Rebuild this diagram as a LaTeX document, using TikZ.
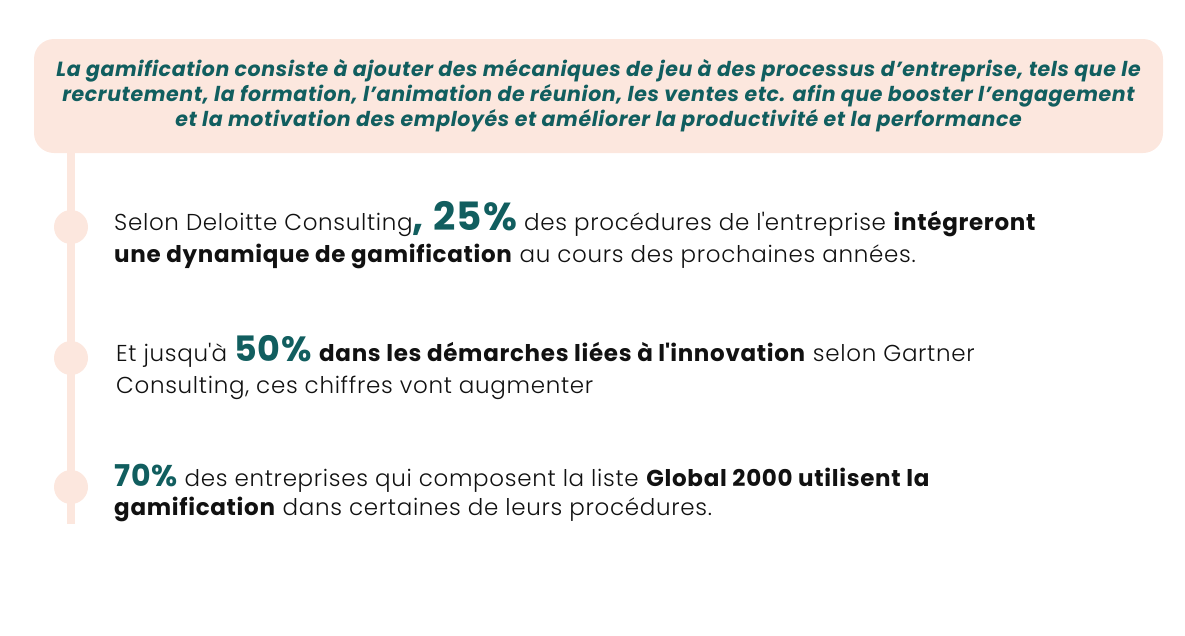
\documentclass[tikz,border=0pt]{standalone}
\usepackage{fontspec}
\setmainfont{Poppins}[UprightFont=* Light, BoldFont=* Bold, ItalicFont=* Italic, BoldItalicFont=* Bold Italic, LetterSpace=3]
\usepackage{tikz}
\usetikzlibrary{calc,positioning}

\definecolor{peach}{HTML}{FCE7DE}
\definecolor{gamteal}{HTML}{115E5F}
\definecolor{ink}{HTML}{111111}

\newcommand{\pct}[2]{{\bfseries\color{gamteal}\fontsize{#1}{32}\selectfont #2}}

\begin{document}
\begin{tikzpicture}[
  x=1pt,
  y=-1pt
]

  \path[use as bounding box] (0,0) rectangle (1185,635);

  \tikzstyle{banner}=[fill=peach,rounded corners=20pt,minimum width=1129pt,minimum height=114pt,inner sep=0pt,align=center,text=gamteal,font=\bfseries\itshape\fontsize{20.5}{25}\selectfont]
  \tikzstyle{dot}=[circle,fill=peach,minimum size=34pt,inner sep=0pt]
  \tikzstyle{rail}=[draw=peach,line width=8pt]
  \tikzstyle{fact}=[anchor=base west,align=left,inner sep=0pt,text=ink,font=\fontsize{23}{32}\selectfont]

  % rail
  \coordinate (railend) at (71,524);
  \path[rail] (71,150) -- (railend);

  % nodes
  \node[banner] (intro) at (598.5,96) {La gamification consiste à ajouter des mécaniques de jeu à des processus d’entreprise, tels que le\\
    recrutement, la formation, l’animation de réunion, les ventes etc. afin que booster l’engagement\\
    et la motivation des employés et améliorer la productivité et la performance};

  \node[dot] (dot1) at (71,227) {};
  \node[dot] (dot2) at (71,358) {};
  \node[dot] (dot3) at (71,487) {};

  \node[fact] (fact1) at ($(dot1)+(43,35)$) {Selon Deloitte Consulting\pct{39}{, 25\%} des procédures de l\textquotesingle entreprise \textbf{intégreront}\\
    \textbf{une dynamique de gamification} au cours des prochaines années.};
  \node[fact] (fact2) at ($(dot2)+(45,35)$) {Et jusqu\textquotesingle à \pct{35}{50\%} \textbf{dans les démarches liées à l\textquotesingle innovation} selon Gartner\\
    Consulting, ces chiffres vont augmenter};
  \node[fact,font=\fontsize{23}{29.5}\selectfont] (fact3) at ($(dot3)+(43,28.5)$) {\pct{30}{70\%} des entreprises qui composent la liste \textbf{Global 2000 utilisent la}\\
    \textbf{gamification} dans certaines de leurs procédures.};

\end{tikzpicture}
\end{document}
